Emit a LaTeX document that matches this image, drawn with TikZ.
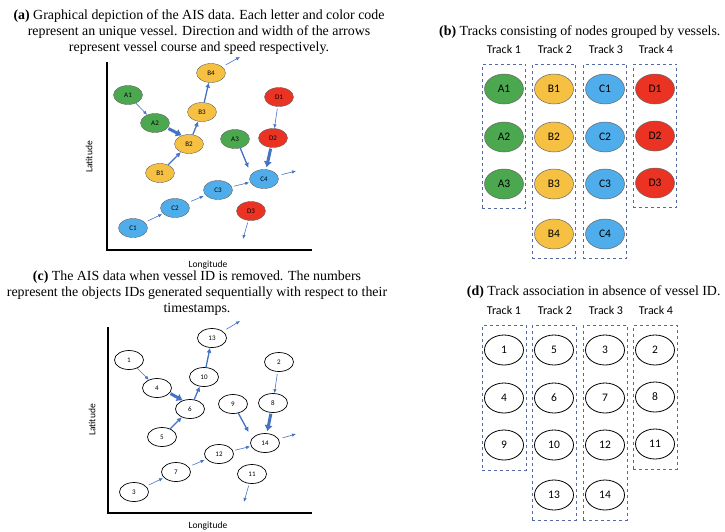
\documentclass[tikz,border=0pt]{standalone}
\usepackage{fontspec}
\setmainfont{Liberation Serif}
\setsansfont{Carlito}
\usetikzlibrary{shapes.geometric,arrows.meta,fit}

\definecolor{vgreen}{HTML}{4CA84F}
\definecolor{vyellow}{HTML}{F6C142}
\definecolor{vblue}{HTML}{4EADEA}
\definecolor{vred}{HTML}{EA3323}
\definecolor{arrowblue}{HTML}{4472C4}
\definecolor{boxblue}{HTML}{5468A6}

\begin{document}
\begin{tikzpicture}[x=1pt,y=-1pt,
      obj/.style ={ellipse, draw=black!60, line width=0.4pt, minimum width=29pt,
                   minimum height=19pt, inner sep=0pt,
                   font=\sffamily\fontsize{7}{8}\selectfont},
      plainobj/.style ={obj, draw=black, fill=white, line width=0.7pt},
      tnode/.style ={ellipse, draw=black!60, line width=0.5pt, minimum width=39pt,
                   minimum height=30pt, inner sep=0pt,
                   font=\sffamily\fontsize{11.5}{13}\selectfont},
      plaintnode/.style ={tnode, draw=black, fill=white, line width=0.8pt},
      track/.style ={draw=boxblue, dashed, line width=0.6pt, inner xsep=2pt, inner ysep=9.5pt},
      tracklabel/.style ={font=\sffamily\fontsize{12}{14}\selectfont},
      axislabel/.style ={font=\sffamily\fontsize{9.5}{11}\selectfont},
      caption/.style ={align=center, font=\fontsize{13.9}{15.8}\selectfont},
      slowmove/.style ={draw=arrowblue, line width=0.6pt, -{Latex[length=4pt,width=3.5pt]}},
      midmove/.style ={draw=arrowblue, line width=1.3pt, -{Latex[length=5pt,width=5pt]}},
      fastmove/.style ={draw=arrowblue, line width=3pt, -{Latex[length=6pt,width=8.5pt]}}]

   \useasboundingbox (0,0) rectangle (725,531);

   % (a) vessels with their IDs
   \node[caption] (capa) at (199,32) {\textbf{(a)} Graphical depiction of the AIS data. Each letter and color code\\
      represent an unique vessel. Direction and width of the arrows\\
      represent vessel course and speed respectively.};

   \draw[line width=1.1pt] (107,62) -- (107,250) -- (312,250);
   \node[axislabel, rotate=90] (lata) at (89,157) {Latitude};
   \node[axislabel] (lona) at (208,265) {Longitude};

   \node[obj, fill=vgreen] (A1) at (128,95) {A1};
   \node[obj, fill=vgreen] (A2) at (155,123) {A2};
   \node[obj, fill=vgreen] (A3) at (235,139) {A3};
   \node[obj, fill=vyellow] (B1) at (160,173) {B1};
   \node[obj, fill=vyellow] (B2) at (189,144) {B2};
   \node[obj, fill=vyellow] (B3) at (202,112) {B3};
   \node[obj, fill=vyellow] (B4) at (211,73) {B4};
   \node[obj, fill=vblue] (C1) at (133,228) {C1};
   \node[obj, fill=vblue] (C2) at (175,208) {C2};
   \node[obj, fill=vblue] (C3) at (218,190) {C3};
   \node[obj, fill=vblue] (C4) at (264,179) {C4};
   \node[obj, fill=vred] (D1) at (279,97) {D1};
   \node[obj, fill=vred] (D2) at (273,138) {D2};
   \node[obj, fill=vred] (D3) at (251,211) {D3};

   \coordinate (B4out) at (240,57);
   \coordinate (C4out) at (296,171);
   \coordinate (D3out) at (243,239);

   \draw[slowmove] (A1) -- (A2);
   \draw[fastmove, shorten <=1pt] (A2.-22) -- (B2.130);
   \draw[midmove] (B1) -- (B2);
   \draw[midmove] (B2) -- (B3);
   \draw[midmove] (B3) -- (B4);
   \draw[slowmove, shorten <=4pt] (B4) -- (B4out);
   \draw[slowmove, shorten <=2pt] (D1) -- (D2);
   \draw[fastmove, shorten <=1pt, shorten >=2pt] (D2) -- (C4);
   \draw[midmove, shorten >=7pt] (A3.-60) -- (C4.160);
   \draw[slowmove, shorten <=4pt] (C4) -- (C4out);
   \draw[slowmove, shorten <=2pt, shorten >=1pt] (C3) -- (C4);
   \draw[slowmove, shorten <=4pt, shorten >=2pt] (C2) -- (C3);
   \draw[slowmove, shorten <=3pt, shorten >=1pt] (C1) -- (C2);
   \draw[slowmove, shorten <=2pt] (D3) -- (D3out);

   % (b) tracks grouped by vessel
   \node[caption, anchor=east] (capb) at (724,32) {\textbf{(b)} Tracks consisting of nodes grouped by vessels.};

   \node[tnode, fill=vgreen] (tA1) at (504,89) {A1};
   \node[tnode, fill=vgreen] (tA2) at (504,137) {A2};
   \node[tnode, fill=vgreen] (tA3) at (504,184) {A3};
   \node[tnode, fill=vyellow] (tB1) at (554,89) {B1};
   \node[tnode, fill=vyellow] (tB2) at (554,137) {B2};
   \node[tnode, fill=vyellow] (tB3) at (554,184) {B3};
   \node[tnode, fill=vyellow] (tB4) at (554,234) {B4};
   \node[tnode, fill=vblue] (tC1) at (605,89) {C1};
   \node[tnode, fill=vblue] (tC2) at (605,137) {C2};
   \node[tnode, fill=vblue] (tC3) at (605,184) {C3};
   \node[tnode, fill=vblue] (tC4) at (605,234) {C4};
   \node[tnode, fill=vred] (tD1) at (655,89) {D1};
   \node[tnode, fill=vred] (tD2) at (655,136) {D2};
   \node[tnode, fill=vred] (tD3) at (655,183) {D3};

   \node[track, fit=(tA1)(tA3)] (trackA) {};
   \node[track, fit=(tB1)(tB4)] (trackB) {};
   \node[track, fit=(tC1)(tC4)] (trackC) {};
   \node[track, fit=(tD1)(tD3)] (trackD) {};

   \node[tracklabel] (labA) at (504,49) {Track 1};
   \node[tracklabel] (labB) at (555,49) {Track 2};
   \node[tracklabel] (labC) at (606,49) {Track 3};
   \node[tracklabel] (labD) at (656,49) {Track 4};

   % (c) objects without vessel ID
   \node[caption] (capc) at (197,293) {\textbf{(c)} The AIS data when vessel ID is removed. The numbers\\
      represent the objects IDs generated sequentially with respect to their\\
      timestamps.};

   \draw[line width=1.1pt] (108,327) -- (108,513) -- (312,513);
   \node[axislabel, rotate=90] (latc) at (92,420) {Latitude};
   \node[axislabel] (lonc) at (208,526) {Longitude};

   \node[plainobj] (n1) at (129,360) {1};
   \node[plainobj] (n2) at (279,362) {2};
   \node[plainobj] (n3) at (134,492) {3};
   \node[plainobj] (n4) at (157,388) {4};
   \node[plainobj] (n5) at (162,437) {5};
   \node[plainobj] (n6) at (190,409) {6};
   \node[plainobj] (n7) at (176,472) {7};
   \node[plainobj] (n8) at (273,403) {8};
   \node[plainobj] (n9) at (233,404) {9};
   \node[plainobj] (n10) at (204,377) {10};
   \node[plainobj] (n11) at (252,474) {11};
   \node[plainobj] (n12) at (219,454) {12};
   \node[plainobj] (n13) at (212,338) {13};
   \node[plainobj] (n14) at (265,443) {14};

   \coordinate (n13out) at (240,321);
   \coordinate (n14out) at (296,434);
   \coordinate (n11out) at (244,502);

   \draw[slowmove] (n1) -- (n4);
   \draw[fastmove, shorten <=1pt] (n4.-22) -- (n6.130);
   \draw[midmove] (n5) -- (n6);
   \draw[midmove] (n6) -- (n10);
   \draw[midmove] (n10) -- (n13);
   \draw[slowmove, shorten <=4pt] (n13) -- (n13out);
   \draw[slowmove, shorten <=2pt] (n2) -- (n8);
   \draw[fastmove, shorten <=1pt, shorten >=2pt] (n8) -- (n14);
   \draw[midmove, shorten >=7pt] (n9.-60) -- (n14.160);
   \draw[slowmove, shorten <=4pt] (n14) -- (n14out);
   \draw[slowmove, shorten <=2pt, shorten >=1pt] (n12) -- (n14);
   \draw[slowmove, shorten <=4pt, shorten >=2pt] (n7) -- (n12);
   \draw[slowmove, shorten <=3pt, shorten >=1pt] (n3) -- (n7);
   \draw[slowmove, shorten <=2pt] (n11) -- (n11out);

   % (d) association without vessel ID
   \node[caption, anchor=east] (capd) at (724,292) {\textbf{(d)} Track association in absence of vessel ID.};

   \node[plaintnode] (t1) at (504,350) {1};
   \node[plaintnode] (t4) at (504,398) {4};
   \node[plaintnode] (t9) at (504,445) {9};
   \node[plaintnode] (t5) at (554,350) {5};
   \node[plaintnode] (t6) at (554,398) {6};
   \node[plaintnode] (t10) at (554,445) {10};
   \node[plaintnode] (t13) at (554,495) {13};
   \node[plaintnode] (t3) at (605,350) {3};
   \node[plaintnode] (t7) at (605,398) {7};
   \node[plaintnode] (t12) at (605,445) {12};
   \node[plaintnode] (t14) at (605,495) {14};
   \node[plaintnode] (t2) at (655,350) {2};
   \node[plaintnode] (t8) at (655,397) {8};
   \node[plaintnode] (t11) at (655,444) {11};

   \node[track, fit=(t1)(t9)] (track1) {};
   \node[track, fit=(t5)(t13)] (track2) {};
   \node[track, fit=(t3)(t14)] (track3) {};
   \node[track, fit=(t2)(t11)] (track4) {};

   \node[tracklabel] (lab1) at (504,310) {Track 1};
   \node[tracklabel] (lab2) at (555,310) {Track 2};
   \node[tracklabel] (lab3) at (606,310) {Track 3};
   \node[tracklabel] (lab4) at (656,310) {Track 4};

 \end{tikzpicture}
\end{document}
